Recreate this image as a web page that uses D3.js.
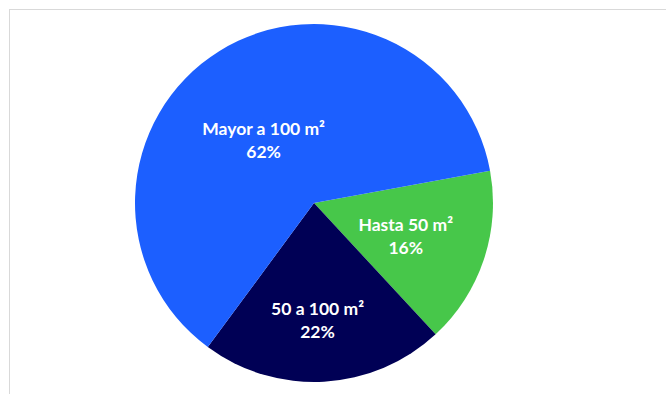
<!DOCTYPE html>
<html>
<head>
<meta charset="utf-8">
<script src="https://cdn.jsdelivr.net/npm/d3@7/dist/d3.min.js"></script>
<style>
  html, body { margin: 0; padding: 0; background: #fff; }
  svg { display: block; }
  .slice-label { font-family: Lato, "Open Sans", sans-serif; font-weight: 700; font-size: 17.5px; fill: #fff; }
</style>
</head>
<body>
<div id="chart"></div>
<script>
// Data
const categories = ["Hasta 50 m²", "50 a 100 m²", "Mayor a 100 m²"];
const shares = [16, 22, 62];
const sliceColors = ["#47c74a", "#000055", "#1c5fff"];

(function () {
  const W = 666, H = 394;
  const cx = 314, cy = 203, radius = 179;

  // label distance from centre, as a fraction of the radius (Excel best-fit look)
  const labelFrac = [0.54, 0.64, 0.46];
  const labelAngleShift = [0, 0.025, -0.1];

  const svg = d3.select("#chart").append("svg")
    .attr("width", W)
    .attr("height", H);

  // light chart-area frame (runs off the right / bottom edge)
  svg.append("rect")
    .attr("x", 9.5).attr("y", 9.5)
    .attr("width", W + 20).attr("height", H + 20)
    .attr("fill", "none")
    .attr("stroke", "#d9d9d9")
    .attr("stroke-width", 1);

  const data = categories.map((c, i) => ({ name: c, value: shares[i], color: sliceColors[i], idx: i }));

  const startDeg = 79.6;
  const pie = d3.pie()
    .sort(null)
    .value(d => d.value)
    .startAngle(startDeg * Math.PI / 180)
    .endAngle(startDeg * Math.PI / 180 + 2 * Math.PI);

  const arc = d3.arc().innerRadius(0).outerRadius(radius);

  const g = svg.append("g").attr("transform", `translate(${cx},${cy})`);

  const arcs = pie(data);

  g.selectAll("path.slice")
    .data(arcs)
    .enter()
    .append("path")
    .attr("class", "slice")
    .attr("d", arc)
    .attr("fill", d => d.data.color);

  const labels = g.selectAll("text.slice-label")
    .data(arcs)
    .enter()
    .append("text")
    .attr("class", "slice-label")
    .attr("text-anchor", "middle")
    .attr("transform", d => {
      const a = (d.startAngle + d.endAngle) / 2 + labelAngleShift[d.data.idx];
      const r = radius * labelFrac[d.data.idx];
      return `translate(${Math.sin(a) * r},${-Math.cos(a) * r})`;
    });

  labels.append("tspan")
    .attr("x", 0)
    .attr("y", -3)
    .text(d => d.data.name);

  labels.append("tspan")
    .attr("x", 0)
    .attr("y", 20)
    .text(d => d.data.value + "%");
})();
</script>
</body>
</html>
